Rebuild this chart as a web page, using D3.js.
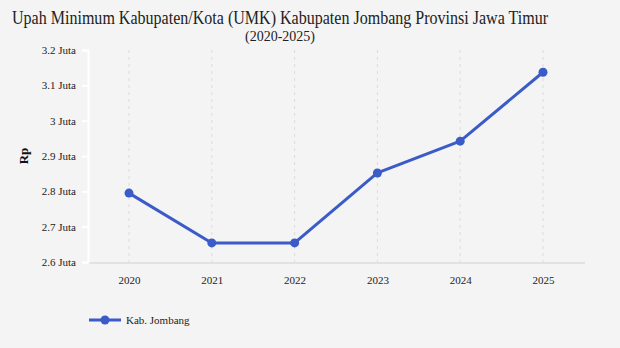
<!DOCTYPE html>
<html>
<head>
<meta charset="utf-8">
<script src="https://cdn.jsdelivr.net/npm/d3@7"></script>
<style>
  body { margin: 0; background: #f4f4f4; }
  svg { display: block; }
</style>
</head>
<body>
<svg id="chart" width="620" height="348"></svg>
<script>
let years = ['2020', '2021', '2022', '2023', '2024', '2025'];
let umk = [2.795, 2.654, 2.654, 2.852, 2.942, 3.137]; // juta rupiah
let yTicks = [2.6, 2.7, 2.8, 2.9, 3.0, 3.1, 3.2];
let seriesName = 'Kab. Jombang';

let svg = d3.select('#chart');
let color = '#3a5bc8';
let serif = '"Liberation Serif", "Times New Roman", serif';

let plotLeft = 88, plotRight = 585, plotTop = 50, plotBottom = 262;

let x = d3.scalePoint().domain(years).range([129, 543]);
let y = d3.scaleLinear().domain([2.6, 3.2]).range([plotBottom, plotTop]);

// title
svg.append('text')
  .attr('x', 280).attr('y', 24)
  .attr('text-anchor', 'middle')
  .attr('textLength', 536)
  .attr('lengthAdjust', 'spacingAndGlyphs')
  .style('font-family', serif)
  .style('font-size', '18px')
  .attr('fill', '#222')
  .text('Upah Minimum Kabupaten/Kota (UMK) Kabupaten Jombang Provinsi Jawa Timur');

svg.append('text')
  .attr('x', 280).attr('y', 41)
  .attr('text-anchor', 'middle')
  .style('font-family', serif)
  .style('font-size', '14px')
  .attr('fill', '#222')
  .text('(2020-2025)');

// vertical dashed grid
svg.append('g')
  .selectAll('line')
  .data(years)
  .enter()
  .append('line')
  .attr('x1', d => x(d)).attr('x2', d => x(d))
  .attr('y1', plotTop).attr('y2', plotBottom)
  .attr('stroke', '#dcdcdc')
  .attr('stroke-dasharray', '3,4');

// x axis baseline
svg.append('line')
  .attr('x1', plotLeft).attr('x2', plotRight)
  .attr('y1', plotBottom + 1).attr('y2', plotBottom + 1)
  .attr('stroke', '#e2e2e2')
  .attr('stroke-width', 2);

// y axis
let yAxis = svg.append('g')
  .attr('transform', 'translate(' + plotLeft + ',0)')
  .call(d3.axisLeft(y).tickValues(yTicks).tickSize(6).tickPadding(6)
    .tickFormat(d => d3.format('.1~f')(d) + ' Juta'));
yAxis.select('.domain').attr('stroke', '#ffffff').attr('stroke-width', 2);
yAxis.selectAll('.tick line').attr('stroke', '#ffffff').attr('stroke-width', 2);
yAxis.selectAll('.tick text')
  .style('font-family', serif)
  .style('font-size', '11px')
  .attr('fill', '#222');

// x axis labels
let xAxis = svg.append('g')
  .attr('transform', 'translate(0,' + plotBottom + ')')
  .call(d3.axisBottom(x).tickSize(0).tickPadding(14));
xAxis.select('.domain').remove();
xAxis.selectAll('.tick text')
  .style('font-family', serif)
  .style('font-size', '11px')
  .attr('fill', '#222');

// y axis title
svg.append('text')
  .attr('transform', 'translate(28,156) rotate(-90)')
  .attr('text-anchor', 'middle')
  .style('font-family', serif)
  .style('font-weight', 'bold')
  .style('font-size', '13px')
  .attr('fill', '#111')
  .text('Rp');

// line
let line = d3.line()
  .x((d, i) => x(years[i]))
  .y(d => y(d));

svg.append('path')
  .datum(umk)
  .attr('fill', 'none')
  .attr('stroke', color)
  .attr('stroke-width', 3)
  .attr('stroke-linejoin', 'round')
  .attr('d', line);

svg.append('g')
  .selectAll('circle')
  .data(umk)
  .enter()
  .append('circle')
  .attr('cx', (d, i) => x(years[i]))
  .attr('cy', d => y(d))
  .attr('r', 4.5)
  .attr('fill', color);

// legend
let legend = svg.append('g').attr('transform', 'translate(89,320)');
legend.append('line')
  .attr('x1', 0).attr('x2', 32)
  .attr('stroke', color).attr('stroke-width', 3);
legend.append('circle')
  .attr('cx', 16).attr('r', 4.5).attr('fill', color);
legend.append('text')
  .attr('x', 37).attr('y', 4)
  .style('font-family', serif)
  .style('font-size', '11px')
  .attr('fill', '#222')
  .text(seriesName);
</script>
</body>
</html>
